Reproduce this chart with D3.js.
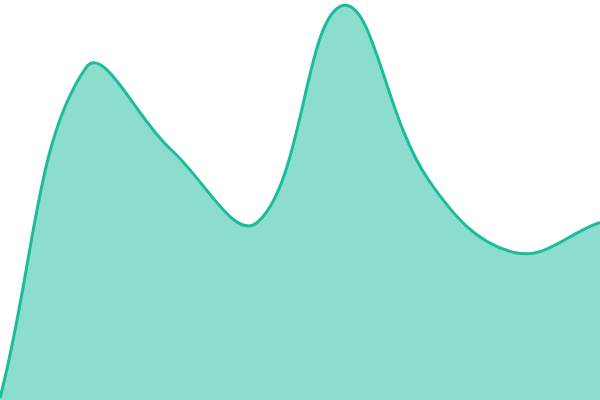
<!DOCTYPE html>
<html>
<head>
<meta charset="utf-8">
<script src="https://cdn.jsdelivr.net/npm/d3@7"></script>
<style>
  html, body { margin: 0; padding: 0; background: #fff; }
  svg { display: block; }
</style>
</head>
<body>
<svg id="chart" width="600" height="400"></svg>
<script>
const categories = [0, 1, 2, 3, 4, 5, 6, 7];
const values = [2, 332, 250, 177.5, 394.5, 220, 147.5, 177.5];

const width = 600, height = 400;
const svg = d3.select("#chart");

const x = d3.scaleLinear().domain([0, categories.length - 1]).range([0, width]);
const y = d3.scaleLinear().domain([0, 400]).range([height, 0]);

// Spline with tension-weighted control points (chord-length weighted), as a D3 custom curve
function TensionSpline(context, t) { this._context = context; this._t = t; }
TensionSpline.prototype = {
  areaStart() { this._line = 0; },
  areaEnd() { this._line = NaN; },
  lineStart() { this._pts = []; },
  point(px, py) { this._pts.push([+px, +py]); },
  lineEnd() {
    const P = this._pts, n = P.length, c = this._context, t = this._t;
    const cap = (v, lo, hi) => Math.max(lo, Math.min(hi, v));
    if (n) {
      if (this._line) c.lineTo(P[0][0], P[0][1]); else c.moveTo(P[0][0], P[0][1]);
      if (n === 2) c.lineTo(P[1][0], P[1][1]);
      else if (n > 2) {
        const cps = P.map((cur, i) => {
          const prev = P[Math.max(0, i - 1)], next = P[Math.min(n - 1, i + 1)];
          const d01 = Math.hypot(cur[0] - prev[0], cur[1] - prev[1]);
          const d12 = Math.hypot(next[0] - cur[0], next[1] - cur[1]);
          let s01 = d01 / (d01 + d12), s12 = d12 / (d01 + d12);
          if (isNaN(s01)) s01 = 0; if (isNaN(s12)) s12 = 0;
          const fa = t * s01, fb = t * s12;
          return {
            p: [cap(cur[0] - fa * (next[0] - prev[0]), 0, width), cap(cur[1] - fa * (next[1] - prev[1]), 0, height)],
            n: [cap(cur[0] + fb * (next[0] - prev[0]), 0, width), cap(cur[1] + fb * (next[1] - prev[1]), 0, height)]
          };
        });
        for (let i = 0; i < n - 1; i++) {
          c.bezierCurveTo(cps[i].n[0], cps[i].n[1], cps[i + 1].p[0], cps[i + 1].p[1], P[i + 1][0], P[i + 1][1]);
        }
      }
    }
    if (this._line || (this._line !== 0 && n === 1)) c.closePath();
    this._line = 1 - this._line;
  }
};
const curve = ctx => new TensionSpline(ctx, 0.4);

const data = categories.map((c, i) => ({ c, v: values[i] }));

const area = d3.area()
  .x(d => x(d.c))
  .y0(y(0))
  .y1(d => y(d.v))
  .curve(curve);

const line = d3.line()
  .x(d => x(d.c))
  .y(d => y(d.v))
  .curve(curve);

svg.append("path")
  .datum(data)
  .attr("d", area)
  .attr("fill", "rgba(26,188,156,0.5)");

svg.append("path")
  .datum(data)
  .attr("d", line)
  .attr("fill", "none")
  .attr("stroke", "#1abc9c")
  .attr("stroke-width", 3);
</script>
</body>
</html>
